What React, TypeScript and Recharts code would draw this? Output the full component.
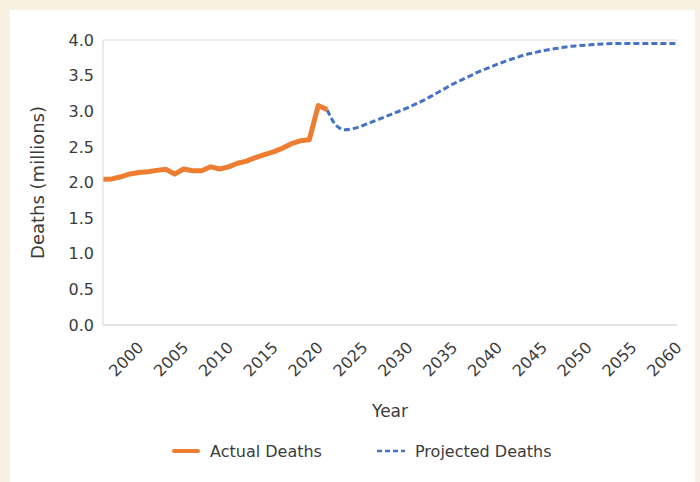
import React from 'react';
import { LineChart, Line, XAxis, YAxis, CartesianGrid, Legend } from 'recharts';

const FIRST_YEAR = 1996;
const LAST_YEAR = 2060;
const PROJECTION_START = 2021;

// deaths in millions, 1996-2021
const actualDeaths = [
  2.045, 2.05, 2.08, 2.12, 2.14, 2.15, 2.17, 2.185, 2.12, 2.19,
  2.165, 2.165, 2.22, 2.19, 2.22, 2.27, 2.3, 2.35, 2.39, 2.43,
  2.48, 2.545, 2.585, 2.6, 3.08, 3.02,
];

// projection in millions, 2021-2060
const projectedDeaths = [
  3.02, 2.8, 2.74, 2.76, 2.8, 2.85, 2.9, 2.95, 3.0, 3.05,
  3.11, 3.17, 3.24, 3.31, 3.38, 3.44, 3.5, 3.56, 3.61, 3.66,
  3.71, 3.75, 3.79, 3.82, 3.85, 3.87, 3.89, 3.91, 3.92, 3.93,
  3.94, 3.945, 3.95, 3.95, 3.95, 3.95, 3.95, 3.95, 3.95, 3.95,
];

const yearTicks = [2000, 2005, 2010, 2015, 2020, 2025, 2030, 2035, 2040, 2045, 2050, 2055, 2060];
const deathTicks = [0, 0.5, 1, 1.5, 2, 2.5, 3, 3.5, 4];
const gridValues = [0, 1, 2, 3, 4];

const ORANGE = '#ED7D31';
const BLUE = '#4472C4';
const TEXT = '#3b3b3b';
const GRID = '#d9d9d9';
const FONT = '"DejaVu Sans", sans-serif';

const data: any[] = [];
for (let yr = FIRST_YEAR; yr <= LAST_YEAR; yr++) {
  const a = yr - FIRST_YEAR;
  const p = yr - PROJECTION_START;
  data.push({
    year: yr,
    actual: a < actualDeaths.length ? actualDeaths[a] : null,
    projected: p >= 0 ? projectedDeaths[p] : null,
  });
}

const YearTick = ({ x, y, payload }: any) => (
  <g transform={`translate(${x},${y})`}>
    <text x={0} y={0} dy={8} textAnchor="end" transform="rotate(-45)" fill={TEXT} fontSize={16} fontFamily={FONT}>
      {payload.value}
    </text>
  </g>
);

const LegendBox = () => (
  <div style={{ height: 24, display: 'flex', alignItems: 'center', paddingLeft: 172, fontFamily: FONT, fontSize: 16, color: TEXT }}>
    <div style={{ width: 205, display: 'flex', alignItems: 'center' }}>
      <svg width={28} height={10} style={{ marginRight: 10 }}>
        <line x1={2} y1={5} x2={26} y2={5} stroke={ORANGE} strokeWidth={4} strokeLinecap="round" />
      </svg>
      <span>Actual Deaths</span>
    </div>
    <div style={{ display: 'flex', alignItems: 'center' }}>
      <svg width={28} height={10} style={{ marginRight: 10 }}>
        <line x1={0} y1={5} x2={28} y2={5} stroke={BLUE} strokeWidth={2.5} strokeDasharray="5 3" />
      </svg>
      <span>Projected Deaths</span>
    </div>
  </div>
);

export default function App() {
  return (
    <div style={{ position: 'relative', width: 700, height: 482, background: '#f8f1e2' }}>
      <style>{'body{margin:0}'}</style>
      <div style={{ position: 'absolute', left: 10, top: 10, width: 685, height: 472, background: '#fff' }} />
      <div style={{ position: 'absolute', left: 0, top: 0 }}>
        <LineChart width={700} height={482} data={data} margin={{ top: 40, right: 23, left: 0, bottom: 19 }}>
          <CartesianGrid yAxisId="grid" vertical={false} stroke={GRID} />
          <XAxis
            dataKey="year"
            type="number"
            domain={[FIRST_YEAR, LAST_YEAR]}
            ticks={yearTicks}
            tick={<YearTick />}
            tickLine={false}
            tickSize={0}
            tickMargin={18}
            axisLine={{ stroke: GRID }}
            height={114}
            label={{ value: 'Year', position: 'insideBottom', offset: 22, fill: TEXT, fontSize: 17, fontFamily: FONT }}
          />
          <YAxis
            domain={[0, 4]}
            ticks={deathTicks}
            tickFormatter={(v: number) => v.toFixed(1)}
            tick={{ fill: TEXT, fontSize: 16, fontFamily: FONT }}
            tickLine={false}
            tickSize={0}
            tickMargin={9}
            axisLine={{ stroke: GRID }}
            width={103}
            label={{ value: 'Deaths (millions)', angle: -90, position: 'insideLeft', offset: 38, fill: TEXT, fontSize: 18, fontFamily: FONT, style: { textAnchor: 'middle' } }}
          />
          <YAxis yAxisId="grid" hide domain={[0, 4]} ticks={gridValues} />
          <Legend verticalAlign="bottom" content={<LegendBox />} wrapperStyle={{ left: 0, width: 700, bottom: 19 }} />
          <Line
            dataKey="projected"
            type="monotone"
            stroke={BLUE}
            strokeWidth={3}
            strokeDasharray="6 3"
            dot={false}
            activeDot={false}
            isAnimationActive={false}
          />
          <Line
            dataKey="actual"
            type="linear"
            stroke={ORANGE}
            strokeWidth={5}
            strokeLinejoin="round"
            dot={false}
            activeDot={false}
            isAnimationActive={false}
          />
        </LineChart>
      </div>
    </div>
  );
}
